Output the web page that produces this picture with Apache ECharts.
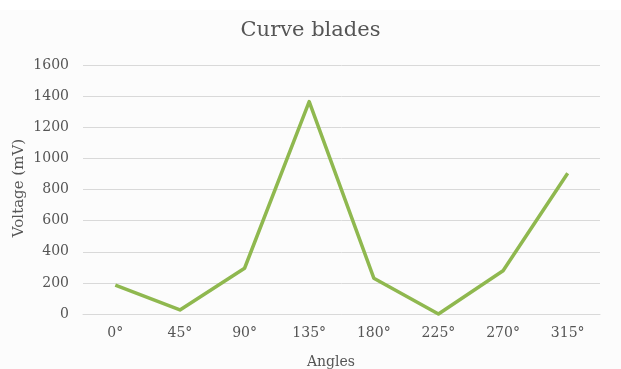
<!DOCTYPE html>
<html><head><meta charset="utf-8">
<script src="https://cdn.jsdelivr.net/npm/echarts@6/dist/echarts.min.js"></script>
<style>
html,body{margin:0;padding:0;background:#ffffff;}
#c{position:absolute;left:0;top:0;width:621px;height:369px;}
#bg{position:absolute;left:0;top:10px;width:621px;height:359px;background:#fcfcfc;}
</style></head>
<body><div id="bg"></div><div id="c"></div>
<script>
const categories = ['0°','45°','90°','135°','180°','225°','270°','315°'];
const voltage = [186, 26, 294, 1365, 230, 0, 278, 905];
const yTicks = {min: 0, max: 1600, interval: 200};
const chart = echarts.init(document.getElementById('c'));
const serif = 'DejaVu Serif';
chart.setOption({
  backgroundColor: 'transparent',
  animation: false,
  title: {text: 'Curve blades', left: 'center', top: 15,
    textStyle: {fontFamily: serif, fontSize: 21, fontWeight: 'normal', color: '#555555'}},
  grid: {left: 83, right: 21, top: 65, bottom: 55},
  xAxis: {type: 'category', data: categories, boundaryGap: true,
    axisLine: {show: true, lineStyle: {color: '#d9d9d9', width: 1}},
    axisTick: {show: false},
    axisLabel: {fontFamily: serif, fontSize: 14, color: '#555555', margin: 12}},
  yAxis: {type: 'value', min: yTicks.min, max: yTicks.max, interval: yTicks.interval,
    axisLine: {show: false}, axisTick: {show: false},
    splitLine: {lineStyle: {color: '#d9d9d9', width: 1}},
    axisLabel: {fontFamily: serif, fontSize: 14, color: '#555555', margin: 14,
      formatter: v => String(v)}},
  graphic: [
    {type: 'text', style: {text: 'Angles', x: 331, y: 362, textAlign: 'center', textVerticalAlign: 'middle',
      font: '14px "DejaVu Serif"', fill: '#555555'}},
    {type: 'text', x: 19, y: 188, rotation: Math.PI/2,
      style: {text: 'Voltage (mV)', textAlign: 'center', textVerticalAlign: 'middle',
      font: '15px "DejaVu Serif"', fill: '#555555'}}
  ],
  series: [{type: 'line', data: voltage, symbol: 'none', clip: false,
    lineStyle: {color: '#8fb84f', width: 3.5, join: 'round'}}]
});
</script></body></html>
